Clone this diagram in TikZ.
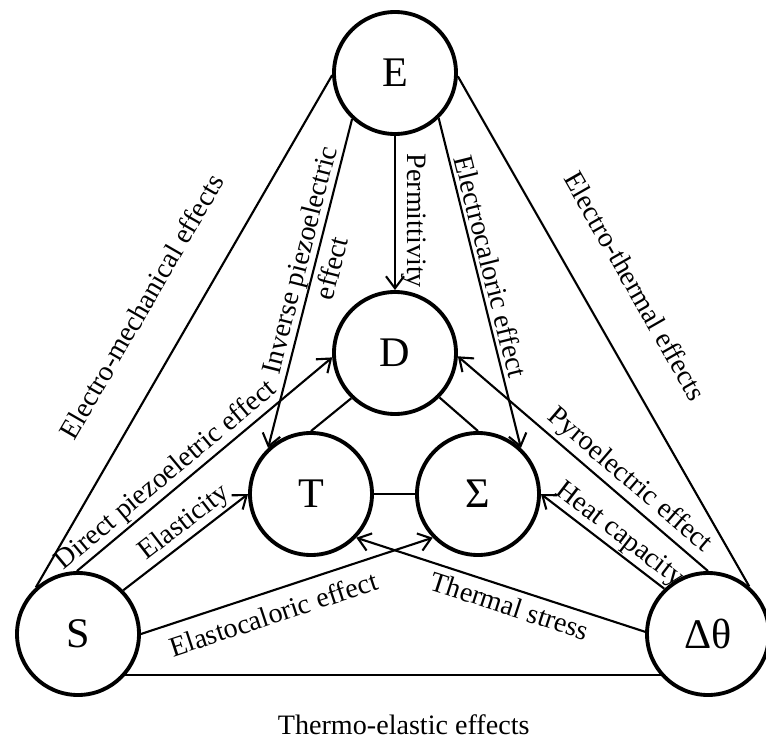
\documentclass[tikz,border=0pt]{standalone}
\usepackage{fontspec}
\setmainfont{Liberation Serif}
\usepackage{tikz}
\usetikzlibrary{arrows.meta}

\begin{document}
\begin{tikzpicture}[
        quantity/.style={circle, draw=black, line width=2.2pt, minimum size=2.44cm, inner sep=0pt, font=\fontsize{24}{28}\selectfont},
        link/.style={line width=1.2pt},
        effect/.style={->, >={Straight Barb[length=2.4mm, width=3.6mm]}, line width=1.2pt},
        lbl/.style={font=\fontsize{16}{19}\selectfont, inner sep=1pt}
    ]
        \useasboundingbox (0,0) rectangle (15.32,14.88);

        % Quantities
        \node[quantity] (field) at (7.90, 13.42) {E};
        \node[quantity] (displ) at (7.90, 7.82) {D};
        \node[quantity] (stress) at (6.22, 5.00) {T};
        \node[quantity] (entropy) at (9.56, 5.00) {Σ};
        \node[quantity] (strain) at (1.56, 2.20) {S};
        \node[quantity] (temp) at (14.16, 2.20) {Δθ};

        % Outer triangle
        \draw[link] (field.182) -- node[lbl, sloped, above=0.73cm, pos=0.5] {Electro-mechanical effects} (strain.132);
        \draw[link] (field.357) -- node[lbl, sloped, above=0.75cm, pos=0.46] {Electro-thermal effects} (temp.49);
        \draw[link] (strain.-41) -- node[lbl, below=0.73cm, pos=0.52] {Thermo-elastic effects} (temp.221);

        % Inner triangle
        \draw[link] (displ.226) -- (stress.90);
        \draw[link] (displ.-45) -- (entropy.90);
        \draw[link] (stress.0) -- (entropy.180);

        % Effects from E
        \draw[effect] (field.227) -- node[lbl, sloped, pos=0.44, align=center] {Inverse piezoelectric\\effect} (stress.133);
        \draw[effect] (field.270) -- node[lbl, sloped, above=0.07cm, pos=0.55] {Permittivity} (displ.90);
        \draw[effect] (field.314) -- node[lbl, sloped, above=0.04cm, pos=0.46] {Electrocaloric effect} (entropy.47);

        % Effects from S
        \draw[effect] (strain.91) -- node[lbl, sloped, above=0pt, pos=0.39] {Direct piezoeletric effect} (displ.184);
        \draw[effect] (strain.44) -- node[lbl, sloped, above=0pt, pos=0.57] {Elasticity} (stress.180);
        \draw[effect] (strain.0) -- node[lbl, sloped, below=0.19cm, pos=0.43] {Elastocaloric effect} (entropy.224);

        % Effects from temperature
        \draw[effect] (temp.178) -- node[lbl, sloped, below=0.09cm, pos=0.45] {Thermal stress} (stress.316);
        \draw[effect] (temp.134) -- node[lbl, sloped, above=0pt, pos=0.44] {Heat capacity} (entropy.0);
        \draw[effect] (temp.90) -- node[lbl, sloped, above=1pt, pos=0.36] {Pyroelectric effect} (displ.357);
    \end{tikzpicture}
\end{document}
